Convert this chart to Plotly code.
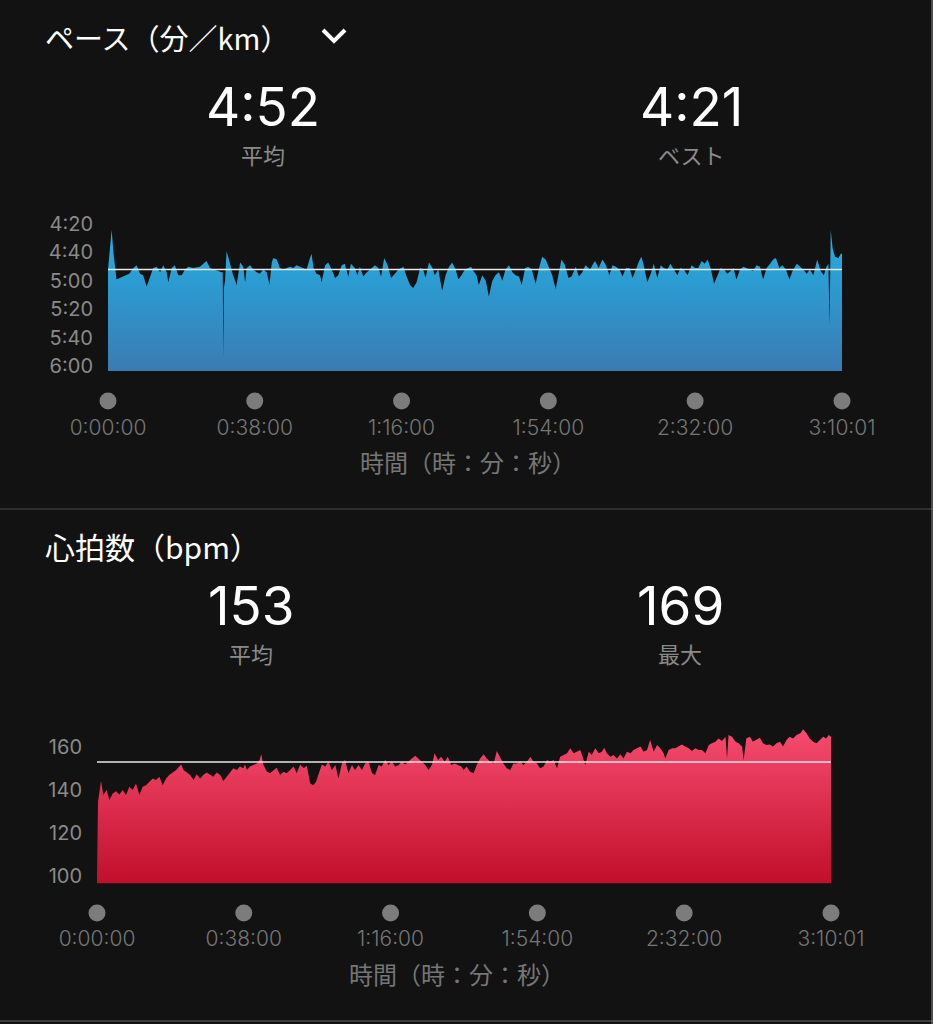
import plotly.graph_objects as go

W, H = 933, 1024


def px(x):
    return x / W


def py(y):
    return 1 - y / H


# ---------------- data ----------------
time_ticks = [0, 38, 76, 114, 152, 190.02]
time_labels = ["0:00:00", "0:38:00", "1:16:00", "1:54:00", "2:32:00", "3:10:01"]

pace_ticks = [260, 280, 300, 320, 340, 360]
pace_labels = ["4:20", "4:40", "5:00", "5:20", "5:40", "6:00"]
hr_ticks = [100, 120, 140, 160]

pace_avg_s = 292   # 4:52
pace_avg_label = "4:52"
pace_best_label = "4:21"
hr_avg = 153
hr_max = 169

# pace: time (min) -> seconds per km
pace_t = [0, 0.6, 0.95, 1.4, 2.2, 3.0, 4.4, 5.5, 6.6, 7.4, 8.3, 9.1, 10.0, 10.9, 11.7, 12.6,
          13.5, 14.3, 15.2, 15.6, 16.5, 17.3, 18.2, 19.1, 19.9, 20.8, 22.1, 23.8, 24.7, 25.5,
          26.4, 27.3, 28.1, 29.4, 29.7, 29.85, 30.0, 30.3, 30.7, 31.6, 32.4, 33.3, 34.2, 35.0,
          35.5, 35.9, 36.8, 37.6, 38.5, 39.3, 40.2, 41.1, 41.8, 42.4, 42.8, 43.7, 44.5, 45.4,
          46.2, 47.1, 48.0, 48.8, 49.7, 50.6, 51.4, 52.3, 52.7, 53.2, 54.0, 54.9, 55.3, 56.2,
          57.0, 57.9, 58.8, 59.6, 60.5, 61.3, 62.2, 62.9, 63.9, 64.6, 65.2, 66.1, 67.0, 68.3,
          69.1, 70.0, 70.7, 71.5, 72.4, 73.3, 74.3, 75.2, 76.5, 77.3, 78.2, 79.0, 79.9, 80.8,
          81.6, 82.2, 83.1, 84.0, 84.6, 85.5, 86.5, 87.4, 88.3, 89.1, 90.0, 90.7, 91.5, 92.4,
          93.3, 94.0, 94.6, 95.4, 96.0, 96.9, 97.8, 98.6, 99.5, 100.3, 101.2, 102.1, 102.9,
          103.8, 104.7, 105.5, 106.4, 107.1, 108.0, 108.8, 109.7, 110.7, 111.6, 112.4, 113.3,
          114.2, 115.0, 115.9, 116.7, 117.4, 118.3, 119.2, 120.0, 121.1, 121.9, 122.8, 123.6,
          124.8, 125.6, 126.1, 127.0, 128.0, 128.9, 129.8, 130.6, 131.5, 132.4, 133.2, 134.1,
          135.0, 135.8, 136.7, 137.5, 138.1, 138.7, 139.6, 140.5, 141.3, 142.2, 143.1, 143.9,
          144.8, 145.6, 146.5, 147.4, 148.2, 149.1, 150.0, 151.1, 152.0, 152.8, 153.7, 154.5,
          155.2, 156.0, 156.9, 157.7, 158.6, 159.5, 160.3, 161.2, 161.9, 162.7, 163.6, 164.5,
          165.3, 166.2, 167.0, 167.9, 168.8, 169.6, 170.5, 171.4, 172.2, 172.9, 173.8, 174.6,
          175.5, 176.4, 177.2, 178.3, 179.1, 180.0, 180.9, 181.7, 182.6, 183.6, 184.5, 185.3,
          186.0, 186.5, 186.8, 187.1, 187.6, 188.2, 189.1, 189.7, 190.02]
pace_s = [292, 275, 264, 280, 299, 298, 296, 295, 291, 289, 295, 296, 304, 297, 291, 290,
          294, 289, 294, 301, 291, 289, 296, 296, 292, 290, 291, 290, 288, 286,
          291, 292, 293, 294, 294, 355, 305, 300, 279, 289, 296, 303, 287, 290,
          301, 291, 289, 292, 294, 295, 292, 294, 303, 287, 284, 285, 291, 292,
          291, 290, 291, 289, 290, 291, 292, 284, 281, 291, 295, 296, 301, 289,
          287, 292, 298, 296, 289, 288, 297, 288, 291, 296, 290, 297, 294, 291,
          289, 291, 297, 284, 289, 298, 295, 292, 290, 297, 303, 305, 301, 291,
          292, 298, 287, 291, 296, 292, 307, 296, 290, 287, 292, 299, 296, 292,
          291, 290, 293, 296, 303, 296, 300, 311, 300, 296, 294, 300, 292,
          289, 294, 296, 297, 303, 291, 290, 292, 302, 291, 283, 285,
          291, 296, 306, 296, 285, 289, 298, 297, 290, 297, 294, 289,
          292, 288, 286, 291, 285, 289, 296, 289, 290, 292, 297, 291,
          291, 298, 291, 286, 283, 289, 301, 295, 288, 298, 289, 291,
          292, 288, 292, 296, 291, 292, 296, 289, 291, 291, 286, 288,
          285, 291, 302, 297, 291, 292, 295, 293, 291, 299, 292, 290,
          291, 292, 293, 289, 290, 299, 291, 288, 285, 284, 291, 289,
          292, 299, 293, 288, 290, 292, 295, 292, 296, 285, 293, 296,
          290, 288, 331, 264, 277, 283, 284, 281, 281]

# heart rate: time (min) -> bpm
hr_t = [0, 0.26, 1.04, 1.64, 2.5, 3.2, 4.06, 4.92, 5.79, 6.65, 7.51, 8.38, 9.24, 10.1, 10.97,
        11.83, 12.69, 13.56, 14.42, 15.28, 16.15, 17.0, 17.9, 18.7, 19.6, 20.5, 21.3, 21.8,
        22.4, 23.2, 24.1, 25.0, 25.8, 26.7, 27.5, 28.4, 29.3, 30.1, 31.0, 31.9, 32.7, 33.6,
        34.5, 35.3, 36.2, 37.0, 37.9, 38.3, 38.8, 39.6, 40.5, 41.4, 42.1, 42.5, 43.1, 44.0,
        44.8, 45.7, 46.5, 47.4, 48.3, 49.1, 50.0, 50.9, 51.7, 52.6, 53.5, 54.3, 55.2, 56.0,
        56.7, 57.6, 58.2, 59.1, 59.9, 60.8, 61.7, 62.5, 63.4, 64.2, 65.1, 66.0, 66.8, 67.7,
        68.6, 69.4, 70.3, 71.2, 72.0, 72.9, 73.7, 74.6, 75.5, 76.3, 77.2, 78.1, 78.9, 79.8,
        80.7, 81.5, 82.4, 83.2, 84.1, 85.0, 85.8, 86.7, 87.4, 88.3, 89.1, 90.0, 90.8, 91.7,
        92.6, 93.4, 94.3, 94.9, 95.7, 96.6, 97.5, 98.3, 99.2, 100.1, 100.9, 101.8, 102.7,
        103.5, 104.4, 105.2, 106.1, 107.0, 107.8, 108.7, 109.6, 110.4, 111.3, 112.2, 113.0,
        113.9, 114.7, 115.6, 116.5, 117.3, 118.2, 119.1, 119.9, 120.8, 121.7, 122.5, 123.4,
        124.2, 125.1, 126.0, 126.4, 127.3, 128.1, 129.0, 129.9, 130.7, 131.3, 132.0, 132.9,
        133.7, 134.6, 135.5, 136.3, 137.2, 138.1, 138.9, 139.8, 140.7, 141.5, 142.4, 143.2,
        144.1, 145.0, 145.8, 146.7, 147.1, 148.0, 148.9, 149.7, 150.6, 151.4, 152.3, 153.2,
        154.0, 154.9, 155.8, 156.6, 157.5, 158.4, 159.2, 160.1, 160.9, 161.8, 162.7, 163.1,
        163.5, 164.4, 165.3, 166.1, 167.0, 167.4, 168.1, 169.0, 169.8, 170.7, 171.6, 172.4,
        173.3, 174.2, 175.0, 175.9, 176.8, 177.6, 178.5, 179.3, 180.2, 181.1, 182.1, 182.8,
        183.7, 184.5, 185.4, 186.3, 187.1, 188.0, 188.8, 189.4, 190.02]
hr_bpm = [100, 134.6, 144.2, 137.7, 140, 135.3, 138.4, 139.5, 138, 140, 137.7, 141.6, 140, 143.1, 137.7,
          141.6, 142.3, 143.9, 145.4, 144.7, 146.2, 142.3, 145.4, 147, 148.2, 149.3, 150.9, 151.9,
          149.3, 148.2, 147, 144.7, 147.3, 145.4, 147, 148.2, 147.3, 146.2, 148.2, 147, 144.2, 146.2,
          147.8, 150.1, 149.3, 150.9, 150.1, 151.9, 149.3, 150.9, 151.6, 152.4, 154, 156.6, 151.6, 148.5,
          147.8, 149.3, 150.4, 147, 148.5, 147.8, 149.3, 150.9, 147.8, 151.9, 150.1, 151.3, 143.1, 142.3,
          143.9, 149.3, 151.9, 150.9, 153.2, 149.3, 151.6, 145.4, 152.4, 154, 147.8, 151.6, 149.3, 151.6,
          149.3, 152.4, 153.2, 147.8, 147, 151.6, 150.9, 154, 151.6, 153.2, 150.9, 151.6, 153.2, 151.9,
          153.5, 154.7, 156, 154.7, 153.2, 151.6, 149.3, 151.6, 157.1, 154, 155.5, 153.2, 155.5, 151.6,
          152.4, 151.6, 150.9, 149.3, 150.9, 148.5, 147.8, 151.6, 154.7, 156.6, 154.7, 153.2, 152.4,
          158.1, 154.7, 152.4, 150.1, 149.3, 152.4, 152.4, 153.2, 151.6, 153.2, 155.5, 153.2,
          152.4, 150.1, 150.9, 154, 153.2, 154, 150.1, 155.5, 156.3, 157.1, 159.4, 157.1,
          157.8, 158.6, 154, 151.6, 157.8, 156.3, 159.4, 157.1, 157.8, 159.7, 157.1, 155.5,
          156.3, 154.7, 156.6, 154.7, 157.8, 157.1, 158.6, 159.4, 160.2, 157.8, 158.6, 163.3,
          157.8, 160.9, 159.4, 157.1, 154.7, 158.6, 159.4, 159.4, 160.2, 161.2, 160.2, 159.4,
          158.1, 159.4, 158.6, 158.6, 157.1, 160.9, 161.7, 162.5, 164, 162.8, 164.8, 154.7,
          165.6, 164.8, 162.5, 161.7, 160.2, 154, 164, 164.8, 162.5, 163.3, 164.3, 161.7,
          160.9, 161.2, 160.2, 161.7, 162.5, 160.2, 163.3, 164.8, 164, 165.6, 166.4, 168.3,
          166.4, 164, 162.5, 161.7, 163.3, 164.8, 164, 165.6, 164.8]

# ---------------- styling ----------------
BG = "#121212"
NUM_FONT = "Inter, 'Noto Sans CJK JP', sans-serif"
JP_FONT = "'Noto Sans CJK JP', sans-serif"
GRAY = "#8a8a8a"
XGRAY = "#767676"
T_END = time_ticks[-1]
PACE_FLOOR = 363.5
PACE_TOP = 258
HR_FLOOR = 96.7
HR_TOP = 170

fig = go.Figure()

# pace area (reversed axis -> fill against a floor trace)
fig.add_trace(go.Scatter(x=[0, T_END], y=[PACE_FLOOR, PACE_FLOOR], mode="lines",
                         line=dict(width=0, color=BG), hoverinfo="skip", showlegend=False,
                         xaxis="x", yaxis="y"))
fig.add_trace(go.Scatter(x=pace_t, y=pace_s, mode="lines", fill="tonexty",
                         line=dict(color="#27AEE2", width=0),
                         fillgradient=dict(type="vertical",
                                           colorscale=[[0, "#22B2E6"], [1, "#3A7BB2"]],
                                           start=PACE_TOP, stop=PACE_FLOOR),
                         showlegend=False, xaxis="x", yaxis="y"))
fig.add_trace(go.Scatter(x=time_ticks, y=[0] * len(time_ticks), mode="markers",
                         marker=dict(size=17, color="#7c7c7c"), cliponaxis=False,
                         showlegend=False, hoverinfo="skip", xaxis="x", yaxis="y3"))

# heart-rate area
fig.add_trace(go.Scatter(x=hr_t, y=hr_bpm, mode="lines", fill="tozeroy",
                         line=dict(color="#F64B6F", width=0),
                         fillgradient=dict(type="vertical",
                                           colorscale=[[0, "#C10F2B"], [1, "#F84D71"]],
                                           start=HR_FLOOR, stop=HR_TOP),
                         showlegend=False, xaxis="x2", yaxis="y2"))
fig.add_trace(go.Scatter(x=time_ticks, y=[0] * len(time_ticks), mode="markers",
                         marker=dict(size=17, color="#7c7c7c"), cliponaxis=False,
                         showlegend=False, hoverinfo="skip", xaxis="x2", yaxis="y4"))

xcommon = dict(range=[0, T_END], tickvals=time_ticks, ticktext=time_labels,
               showgrid=False, zeroline=False, showline=False, ticks="", automargin=False,
               tickfont=dict(family=NUM_FONT, size=21, color=XGRAY, weight=300),
               fixedrange=True)
ycommon = dict(showgrid=False, zeroline=False, showline=False, ticks="", automargin=False,
               ticklabelstandoff=14, tickfont=dict(family=NUM_FONT, size=20, color=GRAY),
               fixedrange=True)

fig.update_layout(
    width=W, height=H,
    margin=dict(l=0, r=0, t=0, b=0, pad=0, autoexpand=False),
    paper_bgcolor=BG, plot_bgcolor=BG,
    showlegend=False,
    xaxis=dict(domain=[px(108), px(842)], anchor="free", position=py(413), **xcommon),
    yaxis=dict(domain=[py(371), py(221.2)], range=[PACE_FLOOR, PACE_TOP], anchor="x",
               tickvals=pace_ticks, ticktext=pace_labels, **ycommon),
    yaxis3=dict(domain=[py(410), py(392)], range=[-1, 1], visible=False, anchor="x",
                fixedrange=True),
    xaxis2=dict(domain=[px(97), px(831)], anchor="free", position=py(924), **xcommon),
    yaxis2=dict(domain=[py(883.3), py(725.5)], range=[HR_FLOOR, HR_TOP], anchor="x2",
                tickvals=hr_ticks, ticktext=[str(v) for v in hr_ticks], **ycommon),
    yaxis4=dict(domain=[py(922), py(904)], range=[-1, 1], visible=False, anchor="x2",
                fixedrange=True),
)

shapes = [
    dict(type="line", xref="x", yref="y", x0=0, x1=T_END, y0=pace_avg_s, y1=pace_avg_s,
         line=dict(color="#E8E8E8", width=1.5)),
    dict(type="line", xref="x2", yref="y2", x0=0, x1=T_END, y0=hr_avg, y1=hr_avg,
         line=dict(color="#E8E8E8", width=1.5)),
    dict(type="line", xref="paper", yref="paper", x0=0, x1=1, y0=py(509), y1=py(509),
         line=dict(color="#4a4a4a", width=1)),
    dict(type="line", xref="paper", yref="paper", x0=0, x1=1, y0=py(1021), y1=py(1021),
         line=dict(color="#3c3c3c", width=2)),
    dict(type="line", xref="paper", yref="paper", x0=px(932), x1=px(932), y0=0, y1=1,
         line=dict(color="#8a8a8a", width=1)),
    dict(type="path", xref="paper", yref="paper",
         path=f"M {px(323)},{py(30)} L {px(334)},{py(41)} L {px(345)},{py(30)}",
         line=dict(color="#FFFFFF", width=4)),
]
fig.update_layout(shapes=shapes)


def ann(text, x, y, size, color, family, xanchor="center"):
    return dict(text=text, x=px(x), y=py(y), xref="paper", yref="paper",
                xanchor=xanchor, yanchor="middle", showarrow=False,
                font=dict(size=size, color=color, family=family))


annotations = [
    ann("ペース（分／km）", 43, 37, 29, "#FFFFFF", JP_FONT, "left"),
    ann(pace_avg_label, 263, 107, 53, "#FFFFFF", NUM_FONT),
    ann("平均", 263, 154, 22, GRAY, JP_FONT),
    ann(pace_best_label, 691, 107, 53, "#FFFFFF", NUM_FONT),
    ann("ベスト", 691, 154, 22, GRAY, JP_FONT),
    ann("時間（時：分：秒）", 468, 461, 24, XGRAY, JP_FONT),
    ann("心拍数（bpm）", 43, 546, 30, "#FFFFFF", JP_FONT, "left"),
    ann(str(hr_avg), 251, 606, 53, "#FFFFFF", NUM_FONT),
    ann("平均", 251, 653, 22, GRAY, JP_FONT),
    ann(str(hr_max), 680, 606, 53, "#FFFFFF", NUM_FONT),
    ann("最大", 680, 653, 22, GRAY, JP_FONT),
    ann("時間（時：分：秒）", 457, 973, 24, XGRAY, JP_FONT),
]
fig.update_layout(annotations=annotations)

fig.write_html(
    "out.html",
    config={"displayModeBar": False},
    post_script=("document.body.style.margin='0';"
                 "document.body.style.background='#121212';"
                 "document.body.style.overflow='hidden';"),
)
